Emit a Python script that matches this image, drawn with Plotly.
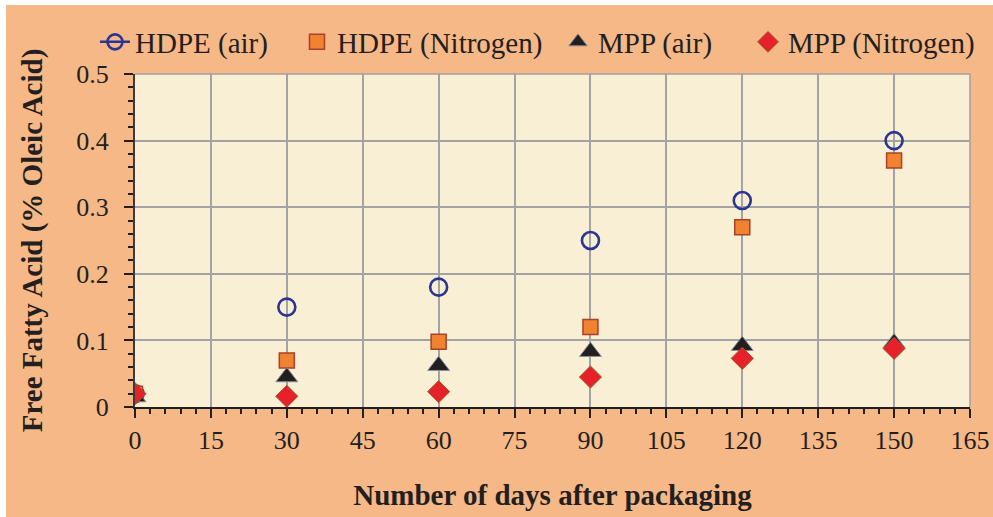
import plotly.graph_objects as go

days = [0, 30, 60, 90, 120, 150]
hdpe_air = [0.02, 0.15, 0.18, 0.25, 0.31, 0.40]
hdpe_n2 = [0.02, 0.07, 0.098, 0.12, 0.27, 0.37]
mpp_air = [0.015, 0.045, 0.062, 0.083, 0.092, 0.096]
mpp_n2 = [0.02, 0.016, 0.023, 0.045, 0.073, 0.088]

x_ticks = list(range(0, 166, 15))
y_ticks = [0, 0.1, 0.2, 0.3, 0.4, 0.5]
y_tick_labels = ["0", "0.1", "0.2", "0.3", "0.4", "0.5"]

FONT = "Liberation Serif, Times New Roman, serif"
PAPER = "#F5B886"
PLOT = "#F9EFD4"
GRID = "#A3A3A3"

L, R, T, B = 135, 23, 74, 110
W, H = 993, 517
pw, ph = W - L - R, H - T - B


def px2x(px):
    return (px - L) / pw


def py2y(py):
    return (H - B - py) / ph


fig = go.Figure()

fig.add_trace(go.Scatter(
    x=days, y=hdpe_air, mode="markers", name="HDPE (air)", showlegend=False,
    marker=dict(symbol="circle-open", size=17, color="#2B3593", line=dict(width=2.6, color="#2B3593")),
))
fig.add_trace(go.Scatter(
    x=[None], y=[None], mode="lines+markers", name="HDPE (air)", legend="legend",
    line=dict(color="#2B3593", width=2.5),
    marker=dict(symbol="circle-open", size=15, color="#2B3593", line=dict(width=2.6, color="#2B3593")),
))
fig.add_trace(go.Scatter(
    x=days, y=hdpe_n2, mode="markers", name="HDPE (Nitrogen)", legend="legend2",
    marker=dict(symbol="square", size=15, color="#F08230", line=dict(width=1.5, color="#A5432B")),
))
fig.add_trace(go.Scatter(
    x=days, y=mpp_air, mode="markers", name="MPP (air)", legend="legend3",
    marker=dict(symbol="triangle-up", size=19, color="#231F20", line=dict(width=1, color="#8C8C9C")),
))
fig.add_trace(go.Scatter(
    x=days, y=mpp_n2, mode="markers", name="MPP (Nitrogen)", legend="legend4",
    marker=dict(symbol="diamond", size=17, color="#E62129", line=dict(width=1, color="#9B5A2A")),
))


def leg(px):
    return dict(
        orientation="h", x=px2x(px), xanchor="left", y=py2y(42), yanchor="middle",
        font=dict(family=FONT, size=29, color="#231F20"),
        bgcolor="rgba(0,0,0,0)", itemwidth=30,
    )


fig.update_layout(
    width=W, height=H,
    margin=dict(l=L, r=R, t=T, b=B, autoexpand=False),
    paper_bgcolor=PAPER,
    plot_bgcolor=PLOT,
    font=dict(family=FONT, size=26, color="#231F20"),
    showlegend=True,
    legend=leg(95),
    legend2=leg(297),
    legend3=leg(558),
    legend4=leg(748),
    xaxis=dict(
        range=[0, 165], tickvals=x_ticks, ticktext=[str(v) for v in x_ticks],
        showgrid=True, gridcolor=GRID, gridwidth=1.5,
        showline=True, linecolor="#231F20", linewidth=2,
        ticks="outside", ticklen=9, tickwidth=2, tickcolor="#231F20",
        minor=dict(dtick=3, ticks="outside", ticklen=5, tickwidth=1.5, tickcolor="#231F20", showgrid=False),
        zeroline=False,
        tickfont=dict(family=FONT, size=26),
        title=dict(text="<b>Number of days after packaging</b>", font=dict(family=FONT, size=29), standoff=30),
    ),
    yaxis=dict(
        range=[0, 0.5], tickvals=y_ticks, ticktext=y_tick_labels,
        showgrid=True, gridcolor=GRID, gridwidth=1.5,
        showline=True, linecolor="#3A3A3A", linewidth=2,
        ticks="outside", ticklen=9, tickwidth=2, tickcolor="#231F20",
        minor=dict(dtick=0.02, ticks="outside", ticklen=5, tickwidth=1.5, tickcolor="#231F20", showgrid=False),
        zeroline=False,
        tickfont=dict(family=FONT, size=26),
        ticklabelstandoff=10,
        title=dict(text="<b>Free Fatty Acid (% Oleic Acid)</b>", font=dict(family=FONT, size=29), standoff=25),
    ),
    shapes=[
        dict(type="rect", xref="paper", yref="paper", x0=px2x(-5), x1=px2x(W + 5), y0=py2y(5), y1=py2y(-5),
             fillcolor="white", line=dict(width=0), layer="below"),
        dict(type="rect", xref="paper", yref="paper", x0=px2x(-5), x1=px2x(6), y0=py2y(H + 5), y1=py2y(-5),
             fillcolor="white", line=dict(width=0), layer="below"),
        dict(type="line", xref="paper", yref="paper", x0=0, x1=1, y0=1, y1=1, line=dict(color="#A0A0A0", width=1.5)),
        dict(type="line", xref="paper", yref="paper", x0=1, x1=1, y0=0, y1=1, line=dict(color="#A0A0A0", width=1.5)),
    ],
)

fig.write_html("out.html", config={"displayModeBar": False},
               post_script="document.body.style.margin='0px';")
